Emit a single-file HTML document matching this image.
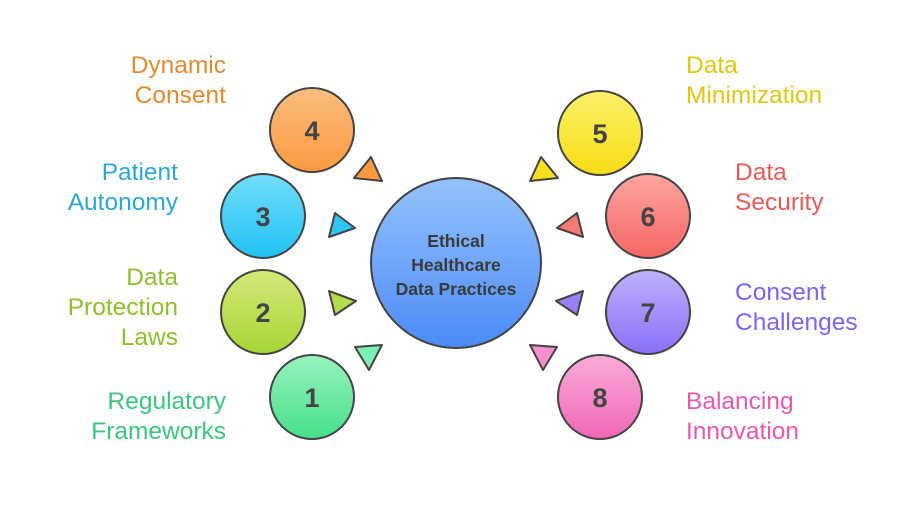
<!DOCTYPE html>
<html><head><meta charset="utf-8"><style>
body{margin:0;background:#fff;}
svg text{font-family:"Liberation Sans",sans-serif;}
</style></head><body>
<svg width="912" height="506" xmlns="http://www.w3.org/2000/svg">
<defs>
<linearGradient id="gc" x1="0" y1="0" x2="0" y2="1"><stop offset="0" stop-color="#96c2fd"/><stop offset="1" stop-color="#4a8bf7"/></linearGradient>
<linearGradient id="g4" x1="0" y1="0" x2="0" y2="1"><stop offset="0" stop-color="#fdbd80"/><stop offset="1" stop-color="#fb9a40"/></linearGradient>
<linearGradient id="g3" x1="0" y1="0" x2="0" y2="1"><stop offset="0" stop-color="#74ddfb"/><stop offset="1" stop-color="#1fc3f4"/></linearGradient>
<linearGradient id="g2" x1="0" y1="0" x2="0" y2="1"><stop offset="0" stop-color="#d4ea78"/><stop offset="1" stop-color="#a6d535"/></linearGradient>
<linearGradient id="g1" x1="0" y1="0" x2="0" y2="1"><stop offset="0" stop-color="#98f2c0"/><stop offset="1" stop-color="#46df8b"/></linearGradient>
<linearGradient id="g5" x1="0" y1="0" x2="0" y2="1"><stop offset="0" stop-color="#fdf06a"/><stop offset="1" stop-color="#f7dd14"/></linearGradient>
<linearGradient id="g6" x1="0" y1="0" x2="0" y2="1"><stop offset="0" stop-color="#fda6a2"/><stop offset="1" stop-color="#f76662"/></linearGradient>
<linearGradient id="g7" x1="0" y1="0" x2="0" y2="1"><stop offset="0" stop-color="#bfb1fd"/><stop offset="1" stop-color="#8c6ef8"/></linearGradient>
<linearGradient id="g8" x1="0" y1="0" x2="0" y2="1"><stop offset="0" stop-color="#fbadd9"/><stop offset="1" stop-color="#f166b6"/></linearGradient>
</defs>
<g stroke="#444" stroke-width="2" stroke-linejoin="round">
<polygon points="371,157 382,181 354,178" fill="#fb9a40"/>
<polygon points="335,213 355,228 329,237" fill="#2ec6f4"/>
<polygon points="329,291 356,301 335,315" fill="#b5dc4a"/>
<polygon points="355,347 382,345 369,370" fill="#7eeeb4"/>
<polygon points="541,157 530,181 558,178" fill="#f8df1e"/>
<polygon points="577,213 557,228 583,237" fill="#f77a76"/>
<polygon points="583,291 556,301 577,315" fill="#9a80f8"/>
<polygon points="557,347 530,345 543,370" fill="#f590cc"/>
<circle cx="456" cy="263" r="85" fill="url(#gc)"/>
<circle cx="312" cy="130" r="42" fill="url(#g4)"/>
<circle cx="263" cy="216" r="42" fill="url(#g3)"/>
<circle cx="263" cy="312" r="42" fill="url(#g2)"/>
<circle cx="312" cy="397" r="42" fill="url(#g1)"/>
<circle cx="600" cy="133" r="42" fill="url(#g5)"/>
<circle cx="648" cy="216" r="42" fill="url(#g6)"/>
<circle cx="648" cy="312" r="42" fill="url(#g7)"/>
<circle cx="600" cy="397" r="42" fill="url(#g8)"/>
</g>
<g font-size="27" font-weight="bold" fill="#444" text-anchor="middle">
<text x="312" y="140">4</text><text x="263" y="226">3</text><text x="263" y="322">2</text><text x="312" y="407">1</text>
<text x="600" y="143">5</text><text x="648" y="226">6</text><text x="648" y="322">7</text><text x="600" y="407">8</text>
</g>
<g font-size="17.5" font-weight="bold" fill="#3a3a3a" text-anchor="middle">
<text x="456" y="247">Ethical</text><text x="456" y="271">Healthcare</text><text x="456" y="295">Data Practices</text>
</g>
<g font-size="24.5" text-anchor="end">
<text x="226" y="73" fill="#e38a30">Dynamic</text><text x="226" y="103" fill="#e38a30">Consent</text>
<text x="178" y="180" fill="#29a8d8">Patient</text><text x="178" y="210" fill="#29a8d8">Autonomy</text>
<text x="178" y="285" fill="#8fbf2a">Data</text><text x="178" y="315" fill="#8fbf2a">Protection</text><text x="178" y="345" fill="#8fbf2a">Laws</text>
<text x="226" y="409" fill="#3cc57f">Regulatory</text><text x="226" y="439" fill="#3cc57f">Frameworks</text>
</g>
<g font-size="24.5">
<text x="686" y="73" fill="#e0c812">Data</text><text x="686" y="103" fill="#e0c812">Minimization</text>
<text x="735" y="180" fill="#e85a55">Data</text><text x="735" y="210" fill="#e85a55">Security</text>
<text x="735" y="300" fill="#7f62ee">Consent</text><text x="735" y="330" fill="#7f62ee">Challenges</text>
<text x="686" y="409" fill="#e659ad">Balancing</text><text x="686" y="439" fill="#e659ad">Innovation</text>
</g>
</svg>
</body></html>
